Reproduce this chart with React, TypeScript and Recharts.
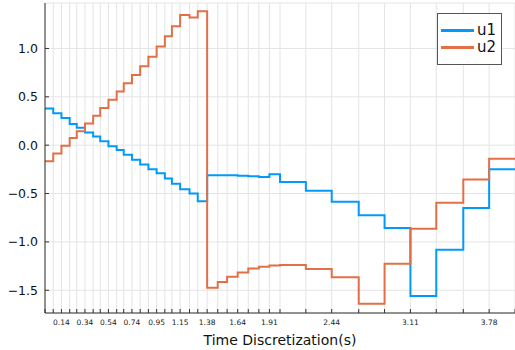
import React from "react";
import { CartesianGrid, Legend, Line, LineChart, XAxis, YAxis } from "recharts";

// discretization nodes (s), last one closes the final step
const times = [
  0, 0.07, 0.14, 0.21, 0.27, 0.34, 0.41, 0.47, 0.54, 0.61, 0.67, 0.74, 0.81, 0.88, 0.95, 1.02, 1.08,
  1.15, 1.23, 1.3, 1.38, 1.47, 1.55, 1.64, 1.73, 1.82, 1.91, 2.0, 2.22, 2.44, 2.67, 2.89, 3.11, 3.33,
  3.56, 3.78, 4.0,
];
const labeledTicks = [0.14, 0.34, 0.54, 0.74, 0.95, 1.15, 1.38, 1.64, 1.91, 2.44, 3.11, 3.78];
const yTicks = [-1.5, -1.0, -0.5, 0.0, 0.5, 1.0];

const u1 = [
  0.38, 0.33, 0.28, 0.22, 0.18, 0.13, 0.09, 0.04, -0.01, -0.05, -0.1, -0.15, -0.2, -0.25, -0.29,
  -0.345, -0.4, -0.455, -0.5, -0.58, -0.31, -0.31, -0.312, -0.315, -0.32, -0.328, -0.3, -0.38, -0.47,
  -0.585, -0.725, -0.855, -1.56, -1.08, -0.65, -0.25,
];
const u2 = [
  -0.165, -0.085, -0.005, 0.075, 0.145, 0.225, 0.305, 0.385, 0.47, 0.555, 0.64, 0.725, 0.815, 0.915,
  1.02, 1.125, 1.23, 1.345, 1.32, 1.385, -1.475, -1.415, -1.36, -1.315, -1.275, -1.258, -1.245, -1.24,
  -1.28, -1.365, -1.64, -1.225, -0.865, -0.595, -0.355, -0.14,
];

const BLUE = "#009afa";
const ORANGE = "#e36f47";
const FONT = "DejaVu Sans, sans-serif";

const data = times.map((t, i) => ({
  t,
  u1: u1[Math.min(i, u1.length - 1)],
  u2: u2[Math.min(i, u2.length - 1)],
}));

const XTick = (props: any) => {
  const { x, y, payload } = props;
  const show = labeledTicks.includes(payload.value);
  return (
    <g>
      <line x1={x} x2={x} y1={y} y2={y - 4} stroke="#333" strokeWidth={1} />
      {show && (
        <text x={x} y={y + 12} textAnchor="middle" fontSize={7.5} fontFamily={FONT} fill="#222">
          {payload.value.toFixed(2)}
        </text>
      )}
    </g>
  );
};

const YTick = (props: any) => {
  const { x, y, payload } = props;
  const label = payload.value.toFixed(1).replace("-", "\u2212");
  return (
    <g>
      <line x1={x} x2={x + 4} y1={y} y2={y} stroke="#333" strokeWidth={1} />
      <text x={x - 7} y={y} dy="0.36em" textAnchor="end" fontSize={12.5} fontFamily={FONT} fill="#111">
        {label}
      </text>
    </g>
  );
};

const renderLegend = (props: any) => {
  const { payload } = props;
  return (
    <div
      style={{
        width: 63,
        height: 50,
        border: "1px solid #555",
        background: "#fff",
        fontFamily: FONT,
        fontSize: 15,
        boxSizing: "content-box",
      }}
    >
      {payload.map((entry: any, i: number) => (
        <div key={entry.value} style={{ position: "absolute", left: 4, top: 9 + i * 17, display: "flex", alignItems: "center", height: 17 }}>
          <span style={{ display: "inline-block", width: 33, height: 3, background: entry.color }} />
          <span style={{ marginLeft: 3, lineHeight: "17px", color: "#111" }}>{entry.value}</span>
        </div>
      ))}
    </div>
  );
};

export default function App() {
  return (
    <div style={{ position: "absolute", left: 0, top: 0, background: "#fff" }}>
      <LineChart width={515} height={350} data={data} margin={{ top: 3, right: 0, bottom: 0, left: 0 }}>
        <CartesianGrid stroke="#e4e4e4" strokeWidth={1} />
        <XAxis
          dataKey="t"
          type="number"
          domain={[0, 4]}
          ticks={times}
          interval={0}
          height={37}
          tickSize={0}
          tickMargin={0}
          tick={<XTick />}
          axisLine={{ stroke: "#333" }}
          label={{
            value: "Time Discretization(s)",
            position: "insideBottom",
            offset: 5,
            fontSize: 14,
            fontFamily: FONT,
            fill: "#111",
          }}
        />
        <YAxis
          type="number"
          domain={[-1.735, 1.47]}
          allowDataOverflow
          ticks={yTicks}
          interval={0}
          width={45}
          tickSize={0}
          tickMargin={0}
          tick={<YTick />}
          axisLine={{ stroke: "#333" }}
        />
        <Legend
          layout="vertical"
          align="center"
          verticalAlign="middle"
          content={renderLegend}
          wrapperStyle={{ left: 437, top: 13, width: 65, height: 52 }}
        />
        <Line type="stepAfter" dataKey="u1" name="u1" stroke={BLUE} strokeWidth={2} dot={false} isAnimationActive={false} />
        <Line type="stepAfter" dataKey="u2" name="u2" stroke={ORANGE} strokeWidth={2} dot={false} isAnimationActive={false} />
      </LineChart>
    </div>
  );
}
